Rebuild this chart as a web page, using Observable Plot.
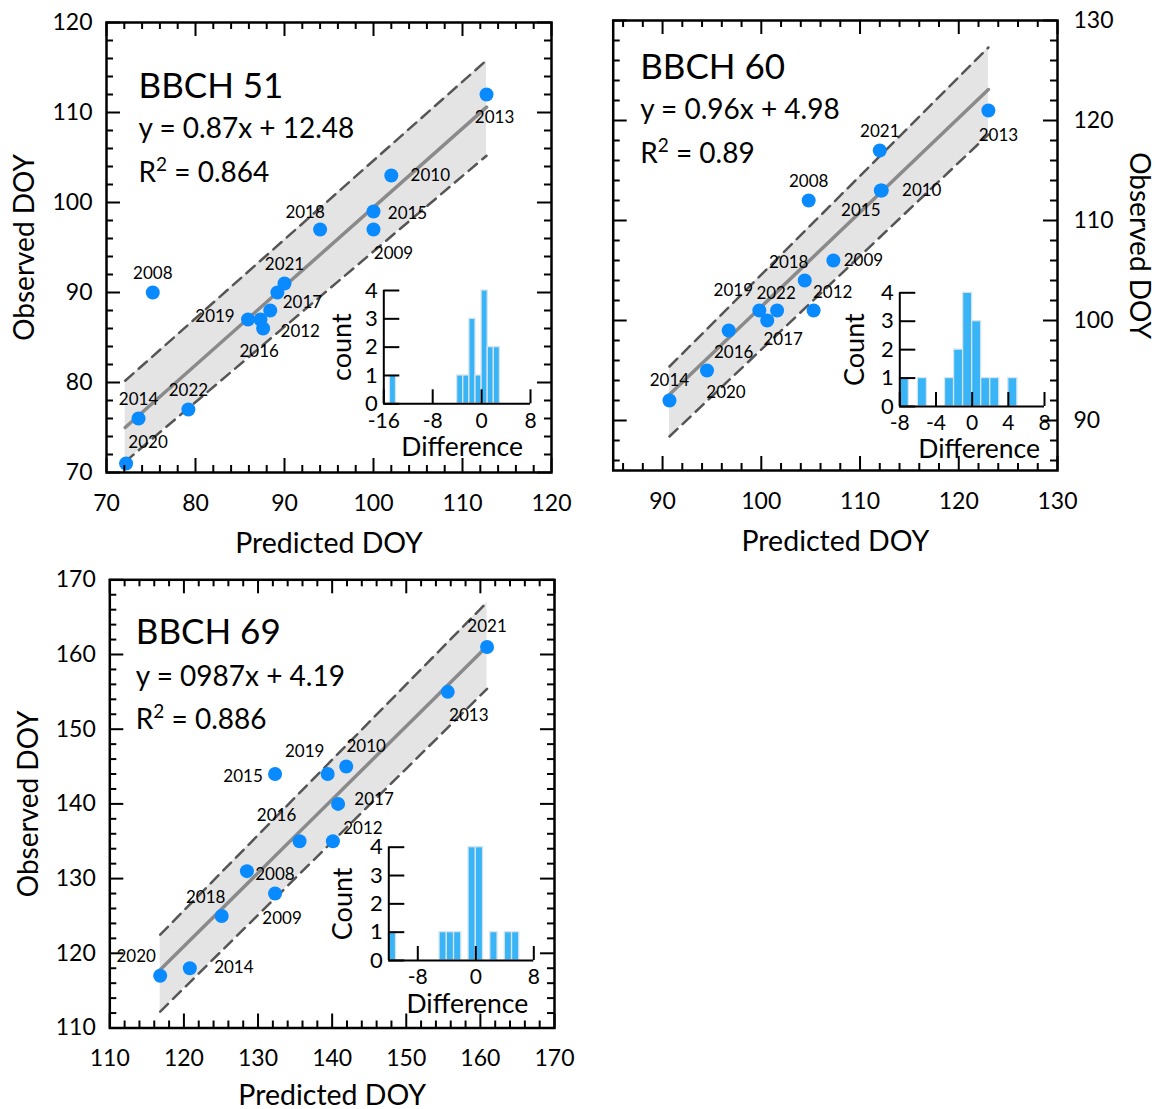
<!DOCTYPE html>
<html><head><meta charset="utf-8">
<script src="https://cdn.jsdelivr.net/npm/d3@7"></script>
<script src="https://cdn.jsdelivr.net/npm/@observablehq/plot@0.6"></script>
<style>
body{margin:0;background:#fff;}
#root{position:relative;width:1156px;height:1109px;overflow:hidden;background:#fff;}
#root svg{position:absolute;overflow:visible;}
</style></head><body><div id="root"></div>
<script>
// ---------------- DATA ----------------
// BBCH 51
const years51 = [2008, 2009, 2010, 2011, 2012, 2013, 2014, 2015, 2016, 2017, 2018, 2019, 2020, 2021, 2022];
const pred51  = [75.2, 100.0, 102.0, 87.3, 88.4, 112.7, 73.6, 100.0, 87.6, 89.2, 94.0, 85.9, 72.2, 90.0, 79.2];
const obs51   = [90, 97, 103, 87, 88, 112, 76, 99, 86, 90, 97, 87, 71, 91, 77];
const line51X = [72.1, 112.7], line51Y = [75.0, 110.6];
const band51X = [72.1, 112.7], band51Lo = [71.2, 105.2], band51Hi = [80.2, 115.8];
const hist51Bins = [-15, -4, -3, -2, -1, 0, 1, 2];
const hist51Counts = [1, 1, 1, 3, 1, 4, 2, 2];
const ticks51X = [70, 80, 90, 100, 110, 120];
const ticks51Y = [70, 80, 90, 100, 110, 120];
const hist51XTicks = [-16, -8, 0, 8];

// BBCH 60
const years60 = [2008, 2009, 2010, 2012, 2013, 2014, 2015, 2016, 2017, 2018, 2019, 2020, 2021, 2022];
const pred60  = [104.8, 107.3, 112.2, 105.3, 123.0, 90.7, 112.1, 96.7, 100.6, 104.4, 99.8, 94.5, 112.0, 101.6];
const obs60   = [112, 106, 113, 101, 121, 92, 113, 99, 100, 104, 101, 95, 117, 101];
const line60X = [90.7, 123.0], line60Y = [92.6, 123.1];
const band60X = [90.7, 123.0], band60Lo = [88.4, 118.6], band60Hi = [95.4, 127.3];
const hist60Bins = [-8, -6, -3, -2, -1, 0, 1, 2, 4];
const hist60Counts = [1, 1, 1, 2, 4, 3, 1, 1, 1];
const ticks60X = [90, 100, 110, 120, 130];
const ticks60Y = [90, 100, 110, 120, 130];
const hist60XTicks = [-8, -4, 0, 4, 8];

// BBCH 69
const years69 = [2008, 2009, 2010, 2012, 2013, 2014, 2015, 2016, 2017, 2018, 2019, 2020, 2021];
const pred69  = [128.5, 132.3, 141.9, 140.1, 155.6, 120.8, 132.3, 135.6, 140.8, 125.1, 139.4, 116.8, 160.9];
const obs69   = [131, 128, 145, 135, 155, 118, 144, 135, 140, 125, 144, 117, 161];
const line69X = [116.8, 160.9], line69Y = [117.8, 161.1];
const band69X = [116.8, 160.9], band69Lo = [112.2, 155.4], band69Hi = [122.5, 167.0];
const hist69Bins = [-12, -5, -4, -3, -1, 0, 2, 4, 5];
const hist69Counts = [1, 1, 1, 1, 4, 4, 1, 1, 1];
const ticks69X = [110, 120, 130, 140, 150, 160, 170];
const ticks69Y = [110, 120, 130, 140, 150, 160, 170];
const hist69XTicks = [-8, 0, 8];

const countTicks = [0, 1, 2, 3, 4];

// ---------------- STYLE ----------------
const FONT = "Lato, 'Open Sans', sans-serif";
const BLUE = "#0a8aff";
const BAR = "#38b4f7";
const root = document.getElementById("root");

const off51 = {2013:[8,23],2010:[39,0],2015:[34,2],2009:[20,24],2018:[-15,-17],2021:[0,-19],2017:[25,10],
  2012:[30,21],2016:[-4,23],2019:[-33,-3],2008:[0,-19],2014:[0,-19],2022:[0,-19],2020:[22,-21]};
const off60 = {2013:[10,25],2021:[0,-19],2010:[40,0],2015:[-20,20],2008:[0,-19],2009:[30,0],2018:[-16,-18],
  2012:[19,-18],2022:[-1,-17],2019:[-26,-20],2017:[16,19],2016:[5,22],2020:[19,22],2014:[0,-20]};
const off69 = {2021:[0,-20],2013:[21,24],2010:[20,-20],2019:[-23,-22],2015:[-32,3],2017:[36,-4],2016:[-23,-26],
  2012:[30,-13],2008:[28,3],2009:[7,25],2018:[-16,-18],2014:[44,-1],2020:[-24,-19]};

function margins(box, fr) {
  return {width: box.width, height: box.height,
    marginLeft: fr.x0 - box.left, marginRight: box.left + box.width - fr.x1,
    marginTop: fr.y0 - box.top, marginBottom: box.top + box.height - fr.y1};
}
function place(svg, box) { svg.style.left = box.left + "px"; svg.style.top = box.top + "px"; root.appendChild(svg); }
const styleObj = {fontFamily: FONT, background: "none", overflow: "visible", color: "#000"};

function minorsOf(dom) {
  return d3.range(Math.ceil(dom[0] / 2) * 2, dom[1] + 1e-9, 2).filter(v => v % 10 !== 0 && v > dom[0] && v < dom[1]);
}

// turn "R²" into R with a real superscript 2
function superscript(svg) {
  svg.querySelectorAll("text").forEach(t => {
    const s = t.textContent;
    if (s.startsWith("R²")) {
      const ns = "http://www.w3.org/2000/svg";
      t.textContent = "R";
      const sup = document.createElementNS(ns, "tspan");
      sup.setAttribute("dy", "-11"); sup.setAttribute("font-size", "19");
      sup.textContent = "2";
      const rest = document.createElementNS(ns, "tspan");
      rest.setAttribute("dy", "11");
      rest.textContent = s.slice(2);
      t.appendChild(sup); t.appendChild(rest);
    }
  });
}

function panel(c) {
  const m = margins(c.box, c.frame);
  const W = c.frame.x1 - c.frame.x0, H = c.frame.y1 - c.frame.y0;
  const pts = c.years.map((yr, i) => ({year: yr, x: c.pred[i], y: c.obs[i]}));
  const band = c.bandX.map((x, i) => ({x, lo: c.bandLo[i], hi: c.bandHi[i]}));
  const line = c.lineX.map((x, i) => ({x, y: c.lineY[i]}));
  const mx = minorsOf(c.xDomain), my = minorsOf(c.yDomain);
  const tk = {stroke: "#000", strokeWidth: 2};
  const labels = pts.filter(p => c.off[p.year]).map(p => Plot.text([p], {
    x: "x", y: "y", text: d => String(d.year), dx: c.off[p.year][0], dy: c.off[p.year][1], fontSize: 17, fill: "#000"}));
  const yRight = c.yAnchor === "right";
  const txt = {text: d => d, lineAnchor: "middle"};
  const svg = Plot.plot({
    ...m,
    x: {domain: c.xDomain},
    y: {domain: c.yDomain},
    style: styleObj,
    marks: [
      Plot.areaY(band, {x: "x", y1: "lo", y2: "hi", fill: "#e4e4e4"}),
      Plot.line(band, {x: "x", y: "hi", stroke: "#555", strokeWidth: 2.5, strokeDasharray: "11,7"}),
      Plot.line(band, {x: "x", y: "lo", stroke: "#555", strokeWidth: 2.5, strokeDasharray: "11,7"}),
      Plot.line(line, {x: "x", y: "y", stroke: "#8a8a8a", strokeWidth: 3.5}),
      Plot.dot(pts, {x: "x", y: "y", r: 7, fill: BLUE}),
      ...labels,
      Plot.frame({stroke: "#000", strokeWidth: 2.5}),
      Plot.tickX(c.xTicks, {x: d => d, insetTop: H - 14, ...tk}),
      Plot.tickX(c.xTicks, {x: d => d, insetBottom: H - 14, ...tk}),
      Plot.tickX(mx, {x: d => d, insetTop: H - 7, ...tk}),
      Plot.tickX(mx, {x: d => d, insetBottom: H - 7, ...tk}),
      Plot.tickY(c.yTicks, {y: d => d, insetRight: W - 14, ...tk}),
      Plot.tickY(c.yTicks, {y: d => d, insetLeft: W - 14, ...tk}),
      Plot.tickY(my, {y: d => d, insetRight: W - 7, ...tk}),
      Plot.tickY(my, {y: d => d, insetLeft: W - 7, ...tk}),
      Plot.axisX({ticks: c.xTicks, tickSize: 0, tickPadding: 22, fontSize: 23, tickFormat: d => String(d), label: null}),
      Plot.axisY({anchor: c.yAnchor, ticks: c.yTicks, tickSize: 0, tickPadding: yRight ? 16 : 14, fontSize: 23, tickFormat: d => String(d), label: null}),
      Plot.text(["Predicted DOY"], {...txt, frameAnchor: "bottom", textAnchor: "middle", dy: c.xTitleDy, fontSize: 28.5}),
      Plot.text(["Observed DOY"], {...txt, frameAnchor: c.yAnchor, textAnchor: "middle", dx: c.yTitleDx, rotate: yRight ? 90 : -90, fontSize: 28}),
      Plot.text([c.title], {...txt, frameAnchor: "top-left", textAnchor: "start", dx: c.tx, dy: c.ty[0], fontSize: 35}),
      Plot.text([c.eq], {...txt, frameAnchor: "top-left", textAnchor: "start", dx: c.tx, dy: c.ty[1], fontSize: 28}),
      Plot.text([c.r2], {...txt, frameAnchor: "top-left", textAnchor: "start", dx: c.tx, dy: c.ty[2], fontSize: 28})
    ]
  });
  superscript(svg);
  place(svg, c.box);
}

function inset(c) {
  const m = margins(c.box, c.frame);
  const W = c.frame.x1 - c.frame.x0, H = c.frame.y1 - c.frame.y0;
  const data = c.bins.map((b, i) => ({x1: b, x2: b + 1, y: c.counts[i]}));
  const tk = {stroke: "#000", strokeWidth: 2};
  const txt = {text: d => d, lineAnchor: "middle", textAnchor: "middle"};
  const svg = Plot.plot({
    ...m,
    x: {domain: c.xDomain},
    y: {domain: [0, 4]},
    style: styleObj,
    marks: [
      Plot.rectY(data, {x1: "x1", x2: "x2", y: "y", fill: BAR, stroke: "#d6e4ec", strokeWidth: 1.3}),
      Plot.ruleY([0], tk),
      Plot.ruleX([c.xDomain[0]], tk),
      Plot.tickY(countTicks, {y: d => d, insetRight: W - 16, ...tk}),
      Plot.tickX(c.xTicks, {x: d => d, insetTop: H - 14, ...tk}),
      Plot.axisY({ticks: countTicks, tickSize: 0, tickPadding: 6, fontSize: 22, tickFormat: d => String(d), label: null}),
      Plot.axisX({ticks: c.xTicks, tickSize: 0, tickPadding: 9, fontSize: 21, tickFormat: d => String(d), label: null}),
      Plot.text(["Difference"], {...txt, frameAnchor: "bottom", dx: c.dDx, dy: c.dDy, fontSize: 26.5}),
      Plot.text([c.countLabel], {...txt, frameAnchor: "left", dx: c.cDx, rotate: -90, fontSize: 27})
    ]
  });
  place(svg, c.box);
}

const box1 = {left: 0, top: 0, width: 578, height: 560};
const box2 = {left: 578, top: 0, width: 578, height: 560};
const box3 = {left: 0, top: 560, width: 578, height: 549};

panel({box: box1, frame: {x0: 106, x1: 551, y0: 22, y1: 472},
  years: years51, pred: pred51, obs: obs51, lineX: line51X, lineY: line51Y,
  bandX: band51X, bandLo: band51Lo, bandHi: band51Hi, xDomain: [70, 120], yDomain: [70, 120],
  xTicks: ticks51X, yTicks: ticks51Y, off: off51, yAnchor: "left", xTitleDy: 71, yTitleDx: -81,
  title: "BBCH 51", eq: "y = 0.87x + 12.48", r2: "R² = 0.864", tx: 32, ty: [64, 107, 151]});
inset({box: box1, frame: {x0: 383.3, x1: 530, y0: 290, y1: 403.3}, bins: hist51Bins, counts: hist51Counts,
  xDomain: [-16, 8], xTicks: hist51XTicks, countLabel: "count", dDx: 5, dDy: 44, cDx: -41});

panel({box: box2, frame: {x0: 612.7, x1: 1057, y0: 20, y1: 470},
  years: years60, pred: pred60, obs: obs60, lineX: line60X, lineY: line60Y,
  bandX: band60X, bandLo: band60Lo, bandHi: band60Hi, xDomain: [85, 130], yDomain: [85, 130],
  xTicks: ticks60X, yTicks: ticks60Y, off: off60, yAnchor: "right", xTitleDy: 71, yTitleDx: 81,
  title: "BBCH 60", eq: "y = 0.96x + 4.98", r2: "R² = 0.89", tx: 27, ty: [47.5, 90, 134]});
inset({box: box2, frame: {x0: 899.3, x1: 1044, y0: 292.3, y1: 406}, bins: hist60Bins, counts: hist60Counts,
  xDomain: [-8, 8], xTicks: hist60XTicks, countLabel: "Count", dDx: 7, dDy: 43, cDx: -44});

panel({box: box3, frame: {x0: 109.3, x1: 554, y0: 579.3, y1: 1027.5},
  years: years69, pred: pred69, obs: obs69, lineX: line69X, lineY: line69Y,
  bandX: band69X, bandLo: band69Lo, bandHi: band69Hi, xDomain: [110, 170], yDomain: [110, 170],
  xTicks: ticks69X, yTicks: ticks69Y, off: off69, yAnchor: "left", xTitleDy: 67.5, yTitleDx: -81,
  title: "BBCH 69", eq: "y = 0987x + 4.19", r2: "R² = 0.886", tx: 26, ty: [53, 97, 140]});
inset({box: box3, frame: {x0: 388.3, x1: 533.3, y0: 846.7, y1: 960}, bins: hist69Bins, counts: hist69Counts,
  xDomain: [-12, 8], xTicks: hist69XTicks, countLabel: "Count", dDx: 6, dDy: 44, cDx: -45});
</script></body></html>
